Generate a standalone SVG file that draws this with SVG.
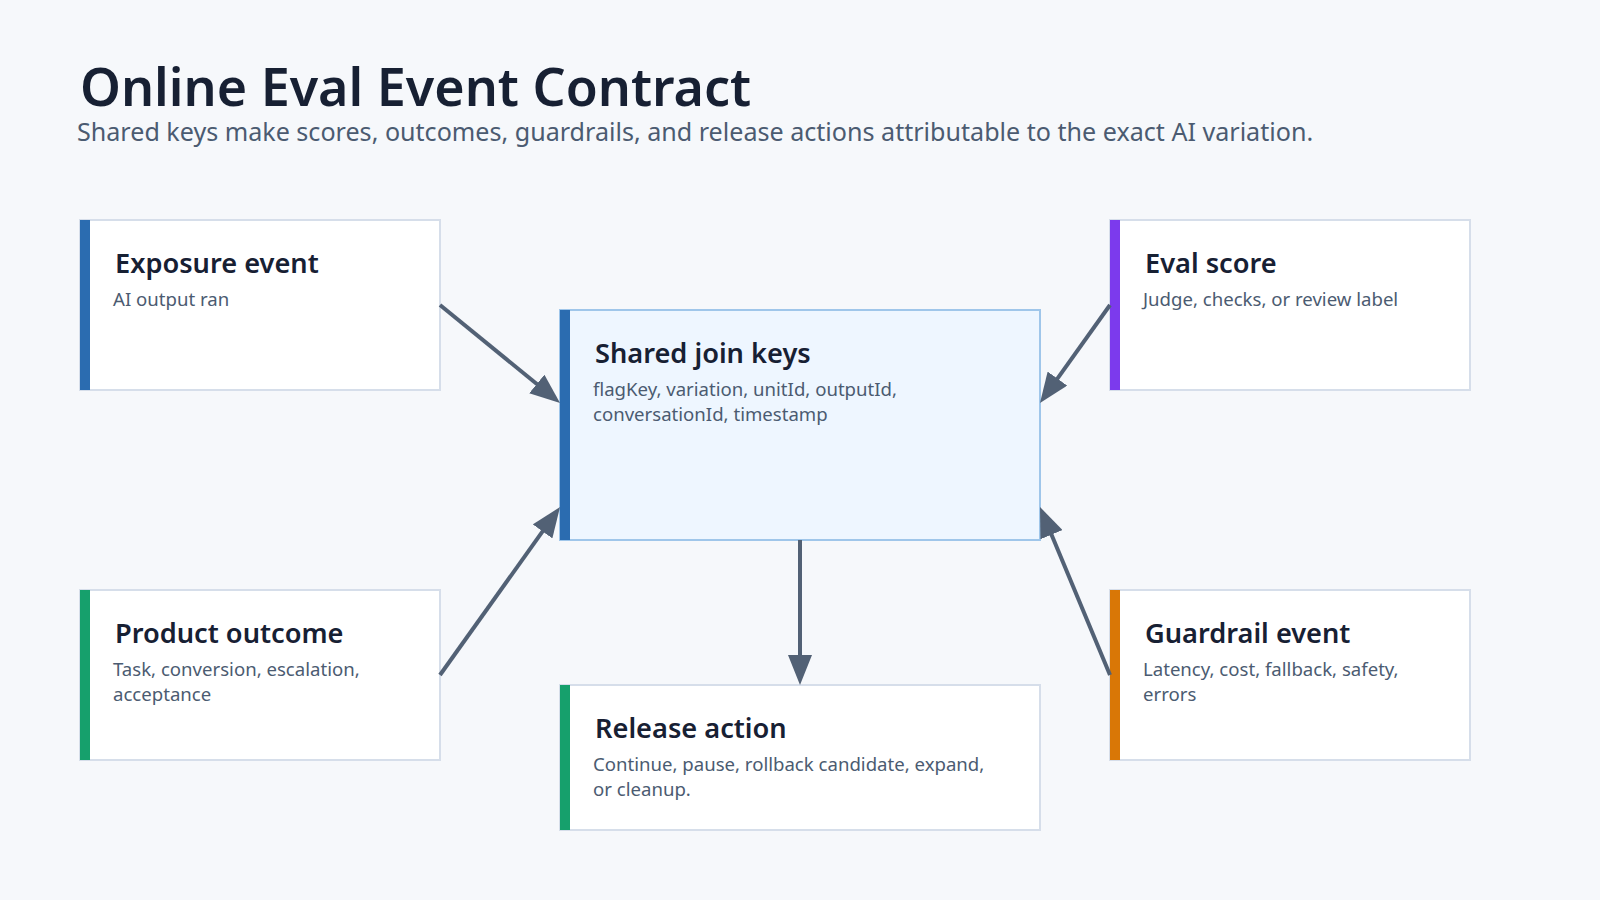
<svg xmlns="http://www.w3.org/2000/svg" width="1600" height="900" viewBox="0 0 1600 900">
<defs>
<style>
.bg{fill:#f6f8fb}
.box{fill:#ffffff;stroke:#d6deea;stroke-width:2}
.hub{fill:#eef6ff;stroke:#9fc6ea;stroke-width:2}
.ttl{font-family:"Noto Sans","Open Sans","DejaVu Sans",sans-serif;font-weight:600;fill:#172033}
.h{font-family:"Noto Sans","Open Sans","DejaVu Sans",sans-serif;font-weight:600;font-size:27.2px;fill:#172033}
.b{font-family:"Noto Sans","Open Sans","DejaVu Sans",sans-serif;font-size:18.6px;fill:#4b5b71}
.sub{font-family:"Noto Sans","Open Sans","DejaVu Sans",sans-serif;font-size:25.1px;fill:#4b5b71}
.con{stroke:#526175;stroke-width:4;fill:none;marker-end:url(#arr)}
</style>
<marker id="arr" markerUnits="userSpaceOnUse" markerWidth="30" markerHeight="24" refX="4" refY="12" orient="auto">
<path d="M0,0 L30,12 L0,24 z" fill="#526175"/>
</marker>
</defs>
<rect class="bg" x="0" y="0" width="1600" height="900"/>
<text class="ttl" x="80" y="106" font-size="52">Online Eval Event Contract</text>
<text class="sub" x="77" y="141">Shared keys make scores, outcomes, guardrails, and release actions attributable to the exact AI variation.</text>

<g id="exposure">
<rect class="box" x="80" y="220" width="360" height="170"/>
<rect x="80" y="220" width="10" height="170" fill="#2b6cb0"/>
<text class="h" x="115" y="273">Exposure event</text>
<text class="b" x="113" y="306">AI output ran</text>
</g>
<g id="shared">
<rect class="hub" x="560" y="310" width="480" height="230"/>
<rect x="560" y="310" width="10" height="230" fill="#2b6cb0"/>
<text class="h" x="595" y="363">Shared join keys</text>
<text class="b" x="593" y="396">flagKey, variation, unitId, outputId,</text>
<text class="b" x="593" y="421">conversationId, timestamp</text>
</g>
<g id="eval">
<rect class="box" x="1110" y="220" width="360" height="170"/>
<rect x="1110" y="220" width="10" height="170" fill="#7c3aed"/>
<text class="h" x="1145" y="273">Eval score</text>
<text class="b" x="1143" y="306">Judge, checks, or review label</text>
</g>
<g id="product">
<rect class="box" x="80" y="590" width="360" height="170"/>
<rect x="80" y="590" width="10" height="170" fill="#16a06c"/>
<text class="h" x="115" y="643">Product outcome</text>
<text class="b" x="113" y="676">Task, conversion, escalation,</text>
<text class="b" x="113" y="701">acceptance</text>
</g>
<g id="guardrail">
<rect class="box" x="1110" y="590" width="360" height="170"/>
<rect x="1110" y="590" width="10" height="170" fill="#d97706"/>
<text class="h" x="1145" y="643">Guardrail event</text>
<text class="b" x="1143" y="676">Latency, cost, fallback, safety,</text>
<text class="b" x="1143" y="701">errors</text>
</g>
<g id="release">
<rect class="box" x="560" y="685" width="480" height="145"/>
<rect x="560" y="685" width="10" height="145" fill="#16a06c"/>
<text class="h" x="595" y="738">Release action</text>
<text class="b" x="593" y="771">Continue, pause, rollback candidate, expand,</text>
<text class="b" x="593" y="796">or cleanup.</text>
</g>

<g id="connectors">
<line class="con" x1="440" y1="305" x2="539.9" y2="386.5"/>
<line class="con" x1="1110" y1="305" x2="1055.1" y2="381.8"/>
<line class="con" x1="440" y1="675" x2="544.9" y2="528.2"/>
<line class="con" x1="1110" y1="675" x2="1050" y2="531"/>
<line class="con" x1="800" y1="540" x2="800" y2="659"/>
</g>
</svg>
